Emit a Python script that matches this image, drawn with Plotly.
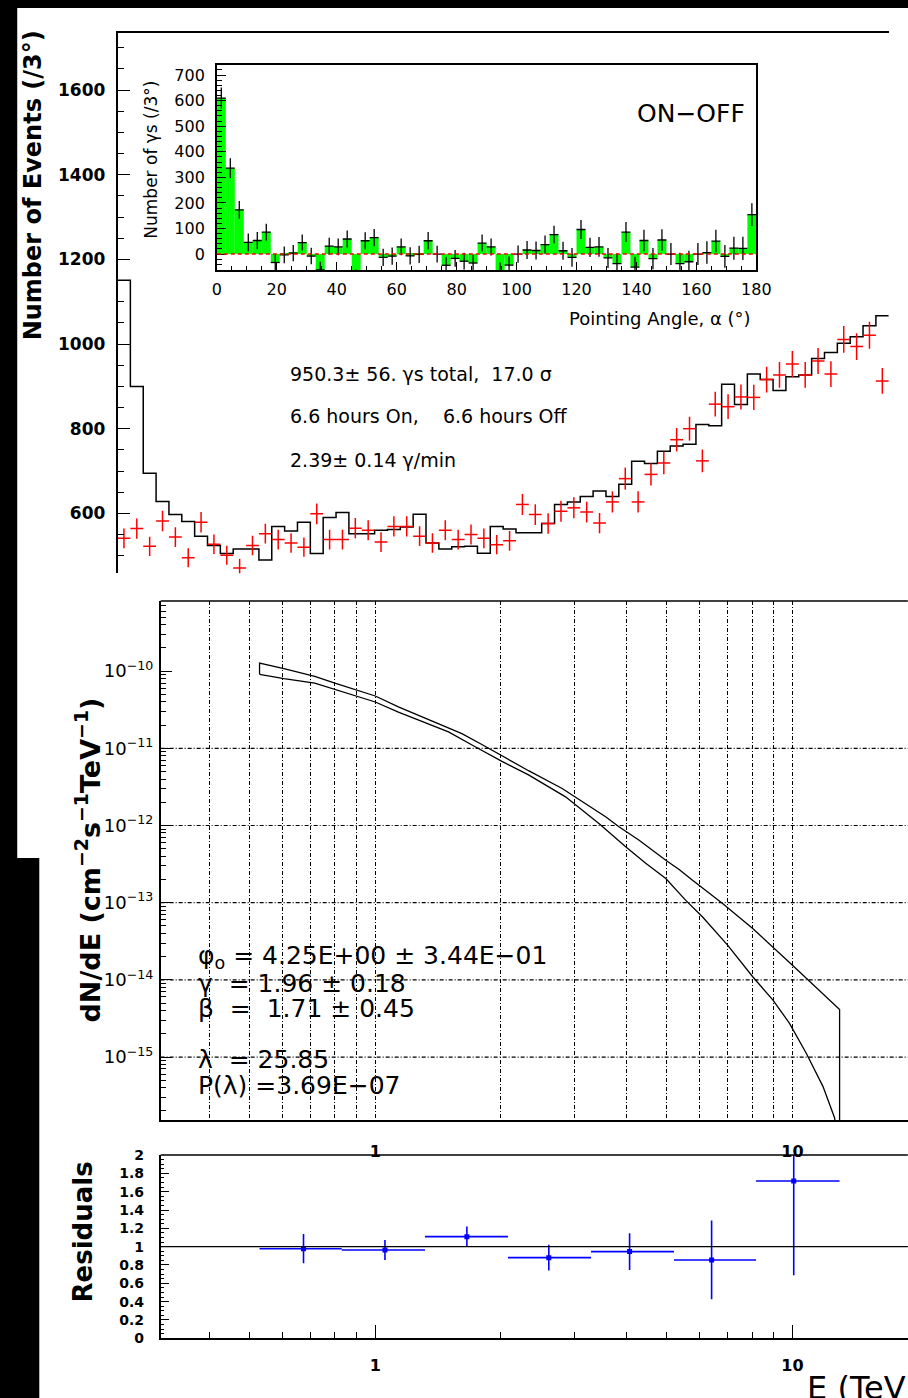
import numpy as np
import plotly.graph_objects as go

# The photographed page keeps an 8px body margin and is squeezed slightly,
# so positions are given in window pixels and converted to figure fractions.
W, H = 923, 1406
MARGIN = 8
SX, SY = 1 / 0.9755, 1414 / 1398
FONT = "DejaVu Sans"

# ---------------- data ----------------
alpha_bin_width = 3.0
alpha_edges = np.arange(0, 180 + alpha_bin_width, alpha_bin_width)
alpha_centers = alpha_edges[:-1] + alpha_bin_width / 2

on_counts = [1151, 900, 695, 628, 597, 581, 546, 524, 505, 516,
             516, 490, 569, 558, 579, 505, 590, 602, 552, 552,
             560, 562, 568, 598, 530, 516, 521, 522, 506, 569,
             563, 554, 554, 576, 621, 627, 640, 653, 640, 669,
             723, 718, 747, 759, 763, 810, 807, 905, 857, 929,
             916, 890, 923, 927, 966, 980, 1002, 1017, 1043, 1067]

off_counts = [541, 564, 522, 582, 544, 495, 579, 527, 501, 471,
              524, 552, 538, 530, 520, 599, 538, 538, 565, 560,
              532, 569, 569, 546, 530, 560, 538, 550, 541, 526,
              535, 621, 597, 576, 605, 613, 603, 577, 627, 682,
              627, 692, 719, 774, 800, 724, 858, 852, 875, 874,
              916, 927, 953, 927, 960, 929, 1011, 994, 1021, 913]

main_y_ticks = [600, 800, 1000, 1200, 1400, 1600]
inset_y_ticks = [0, 100, 200, 300, 400, 500, 600, 700]
inset_x_ticks = [0, 20, 40, 60, 80, 100, 120, 140, 160, 180]

stats_lines = ["950.3± 56. γs total,\u00a0\u00a017.0 σ",
               "6.6 hours On,\u00a0\u00a0\u00a0\u00a06.6 hours Off",
               "2.39± 0.14 γ/min"]

# spectral fit band (two envelope curves), E in TeV, log10 of flux
band_E_upper = [0.528, 0.604, 0.716, 0.807, 0.91, 1.0, 1.136, 1.292, 1.444, 1.613,
                1.801, 2.012, 2.33, 2.805, 3.565, 3.838, 4.29, 4.97, 5.35, 5.76,
                6.80, 8.03, 8.97, 10.0, 12.97]
band_logF_upper = [-9.895, -9.968, -10.067, -10.162, -10.257, -10.322, -10.464, -10.594, -10.70, -10.809,
                   -10.95, -11.10, -11.29, -11.52, -11.887, -12.017, -12.19, -12.45, -12.57, -12.71,
                   -13.01, -13.335, -13.57, -13.81, -14.383]
band_E_lower = [0.528, 0.604, 0.716, 0.807, 0.91, 1.0, 1.136, 1.292, 1.498, 1.736,
                2.012, 2.33, 2.858, 3.436, 3.983, 4.449, 4.97, 5.55, 6.09, 6.99,
                8.03, 8.97, 9.83, 10.79, 11.83, 12.62]
band_logF_lower = [-10.041, -10.097, -10.154, -10.24, -10.335, -10.40, -10.53, -10.646, -10.788, -10.98,
                   -11.17, -11.345, -11.629, -11.973, -12.276, -12.49, -12.686, -12.97, -13.185, -13.55,
                   -13.96, -14.26, -14.56, -14.95, -15.38, -15.79]

spec_grid_E = [0.4, 0.5, 0.6, 0.7, 0.8, 0.9, 1, 2, 3, 4, 5, 6, 7, 8, 9, 10]
spec_E_labels = {1: "1", 10: "10"}
spec_decades = [-10, -11, -12, -13, -14, -15]
spec_grid_decades = [-11, -12, -13, -14, -15]

fit_lines = ["φ<sub>o</sub> = 4.25E+00 ± 3.44E−01",
             "γ\u00a0\u00a0= 1.96 ± 0.18",
             "β\u00a0\u00a0=\u00a0\u00a01.71 ± 0.45",
             "λ\u00a0\u00a0= 25.85",
             "P(λ) =3.69E−07"]

res_E = [0.673, 1.055, 1.658, 2.606, 4.07, 6.40, 10.07]
res_val = [0.978, 0.964, 1.109, 0.880, 0.946, 0.855, 1.717]
res_err = [0.16, 0.11, 0.11, 0.14, 0.20, 0.43, 1.03]
res_E_lo = [0.528, 0.831, 1.316, 2.08, 3.29, 5.20, 8.18]
res_E_hi = [0.831, 1.316, 2.08, 3.29, 5.20, 8.18, 12.97]
res_y_ticks = [0, 0.2, 0.4, 0.6, 0.8, 1, 1.2, 1.4, 1.6, 1.8, 2]

# ---------------- helpers (window px -> paper fraction) ----------------
def fx(px):
    return min(1.0, max(0.0, (px * SX - MARGIN) / W))

def fy(py):
    return min(1.0, max(0.0, 1 - (py * SY - MARGIN) / H))

def fx_to_px(f):
    return (f * W + MARGIN) / SX

on = np.array(on_counts, dtype=float)
off = np.array(off_counts, dtype=float)
diff = on - off

# log-energy axis: E=1 at x=377px, one decade = 416px
E1_PX, DECADE_PX = 377.0, 416.0
X3_DOMAIN = [fx(163), fx(908)]
X3_RANGE = [(fx_to_px(X3_DOMAIN[0]) - E1_PX) / DECADE_PX,
            (fx_to_px(X3_DOMAIN[1]) - E1_PX) / DECADE_PX]
Y3_RANGE = [-15.816, -9.092]
GRID_DASH = "4px,2px,1px,2px"

fig = go.Figure()

# main ON histogram (steps)
fig.add_trace(go.Scatter(x=alpha_edges, y=list(on) + [on[-1]], mode="lines",
                         line=dict(color="black", width=1.5, shape="hv"),
                         xaxis="x", yaxis="y", hoverinfo="skip"))
# OFF crosses
fig.add_trace(go.Scatter(x=alpha_centers, y=off, mode="markers",
                         marker=dict(size=1, color="red"),
                         error_x=dict(type="constant", value=alpha_bin_width / 2, width=0,
                                      thickness=1.5, color="red"),
                         error_y=dict(type="data", array=np.sqrt(off), width=0,
                                      thickness=1.5, color="red"),
                         xaxis="x", yaxis="y", hoverinfo="skip"))

# inset ON-OFF
fig.add_trace(go.Bar(x=alpha_centers, y=diff, width=alpha_bin_width,
                     marker=dict(color="#00ff00", line=dict(width=0)),
                     xaxis="x2", yaxis="y2", hoverinfo="skip"))
fig.add_trace(go.Scatter(x=alpha_centers, y=diff, mode="markers",
                         marker=dict(size=1, color="black"),
                         error_x=dict(type="constant", value=alpha_bin_width / 2, width=0,
                                      thickness=1.3, color="black"),
                         error_y=dict(type="data", array=np.sqrt(on + off), width=0,
                                      thickness=1.3, color="black"),
                         xaxis="x2", yaxis="y2", hoverinfo="skip"))

# spectrum band
F_up = [10 ** v for v in band_logF_upper]
F_lo = [10 ** v for v in band_logF_lower]
floor = 10 ** (Y3_RANGE[0] - 0.5)
fig.add_trace(go.Scatter(x=[band_E_lower[0]] + band_E_upper + [band_E_upper[-1]],
                         y=[F_lo[0]] + F_up + [floor], mode="lines",
                         line=dict(color="black", width=1.3),
                         xaxis="x3", yaxis="y3", hoverinfo="skip"))
fig.add_trace(go.Scatter(x=band_E_lower + [band_E_lower[-1] * 1.02],
                         y=F_lo + [floor], mode="lines",
                         line=dict(color="black", width=1.3),
                         xaxis="x3", yaxis="y3", hoverinfo="skip"))

# residuals
fig.add_trace(go.Scatter(x=res_E, y=res_val, mode="markers",
                         marker=dict(symbol="square", size=5, color="#0000ff"),
                         error_x=dict(type="data",
                                      array=[h - e for h, e in zip(res_E_hi, res_E)],
                                      arrayminus=[e - l for e, l in zip(res_E, res_E_lo)],
                                      width=0, thickness=1.6, color="#0000ff"),
                         error_y=dict(type="data", array=res_err, width=0,
                                      thickness=1.6, color="#0000ff"),
                         xaxis="x4", yaxis="y4", hoverinfo="skip"))

tick_black = dict(tickcolor="black", tickwidth=1.3)

layout = dict(
    width=W, height=H, autosize=False,
    margin=dict(l=0, r=0, t=0, b=0, pad=0),
    paper_bgcolor="black", plot_bgcolor="white",
    showlegend=False,
    font=dict(family=FONT, color="black"),
    xaxis=dict(domain=[fx(120), fx(889)], range=[0, 180], anchor="y", side="top",
               showline=True, linecolor="black", linewidth=1.5, showgrid=False,
               zeroline=False, showticklabels=False, ticks=""),
    yaxis=dict(domain=[fy(573.3), fy(33)], range=[458.2, 1734.8], anchor="x",
               showline=True, linecolor="black", linewidth=1.5, showgrid=False, zeroline=False,
               ticks="inside", ticklen=13, tickvals=main_y_ticks, **tick_black,
               tickfont=dict(family=FONT, size=17, color="black", weight="bold"),
               ticklabelstandoff=7,
               minor=dict(dtick=50, ticks="inside", ticklen=7, tickcolor="black", tickwidth=1.3)),
    xaxis2=dict(domain=[fx(219), fx(757)], range=[0, 180], anchor="y2",
                showline=True, mirror=True, linecolor="black", linewidth=1.5,
                showgrid=False, zeroline=False, ticks="inside", ticklen=8,
                tickvals=inset_x_ticks, **tick_black,
                tickfont=dict(family=FONT, size=16, color="black"), ticklabelstandoff=4,
                minor=dict(dtick=5, ticks="inside", ticklen=4, tickcolor="black", tickwidth=1.2)),
    yaxis2=dict(domain=[fy(270), fy(65)], range=[-62.6, 739], anchor="x2",
                showline=True, mirror=True, linecolor="black", linewidth=1.5,
                showgrid=False, zeroline=False, ticks="inside", ticklen=9,
                tickvals=inset_y_ticks, **tick_black,
                tickfont=dict(family=FONT, size=16, color="black"), ticklabelstandoff=7,
                minor=dict(dtick=20, ticks="inside", ticklen=5, tickcolor="black", tickwidth=1.2)),
    xaxis3=dict(type="log", domain=X3_DOMAIN, range=X3_RANGE, anchor="y3",
                showline=True, linecolor="black", linewidth=1.5, zeroline=False,
                tickvals=spec_grid_E,
                ticktext=[spec_E_labels.get(v, "") for v in spec_grid_E],
                ticks="", showgrid=True, gridcolor="black", gridwidth=1.2,
                griddash=GRID_DASH,
                tickfont=dict(family=FONT, size=16, color="black", weight="bold"),
                ticklabelstandoff=16),
    yaxis3=dict(type="log", domain=[fy(1120), fy(601)], range=Y3_RANGE, anchor="x3",
                showline=True, linecolor="black", linewidth=1.5, zeroline=False, showgrid=False,
                ticks="inside", ticklen=12, **tick_black,
                tickvals=[10 ** d for d in spec_decades],
                ticktext=["10<sup>−%d</sup>" % (-d) for d in spec_decades],
                tickfont=dict(family=FONT, size=18, color="black"), ticklabelstandoff=2,
                minor=dict(tickvals=[k * 10 ** d for d in range(-16, -8) for k in range(2, 10)],
                           ticks="inside", ticklen=6, tickcolor="black", tickwidth=1.2)),
    xaxis4=dict(type="log", domain=X3_DOMAIN, range=X3_RANGE, anchor="y4",
                showline=True, linecolor="black", linewidth=1.5, zeroline=False, showgrid=False,
                ticks="inside", ticklen=14, **tick_black,
                tickvals=[1, 10], ticktext=["1", "10"],
                tickfont=dict(family=FONT, size=16, color="black", weight="bold"),
                ticklabelstandoff=12,
                minor=dict(tickvals=[v for v in spec_grid_E if v not in (1, 10)],
                           ticks="inside", ticklen=7, tickcolor="black", tickwidth=1.3)),
    yaxis4=dict(domain=[fy(1338.3), fy(1155)], range=[0, 2], anchor="x4",
                showline=True, linecolor="black", linewidth=1.5, zeroline=False, showgrid=False,
                ticks="inside", ticklen=9, **tick_black,
                tickvals=res_y_ticks, ticktext=["%g" % v for v in res_y_ticks],
                tickfont=dict(family=FONT, size=14, color="black", weight="bold"),
                ticklabelstandoff=12,
                minor=dict(dtick=0.05, ticks="inside", ticklen=4, tickcolor="black", tickwidth=1.2)),
)

shapes = [
    # white picture areas
    dict(type="rect", xref="paper", yref="paper", x0=fx(20), x1=1, y0=fy(858), y1=fy(5),
         fillcolor="white", line=dict(width=0), layer="below"),
    dict(type="rect", xref="paper", yref="paper", x0=fx(42), x1=1, y0=0, y1=fy(597),
         fillcolor="white", line=dict(width=0), layer="below"),
    # inset zero line
    dict(type="line", xref="x2 domain", x0=0, x1=1, yref="y2", y0=0, y1=0,
         line=dict(color="red", width=1.5, dash="4px,3px")),
    # spectrum top frame
    dict(type="line", xref="x3 domain", x0=0, x1=1, yref="y3 domain", y0=1, y1=1,
         line=dict(color="black", width=1.5)),
    # residual top frame and unity line
    dict(type="line", xref="x4 domain", x0=0, x1=1, yref="y4 domain", y0=1, y1=1,
         line=dict(color="black", width=1.5)),
    dict(type="line", xref="x4 domain", x0=0, x1=1, yref="y4", y0=1, y1=1,
         line=dict(color="black", width=1.3)),
]
for d in spec_grid_decades:
    shapes.append(dict(type="line", xref="x3 domain", x0=0, x1=1, yref="y3",
                       y0=10 ** d, y1=10 ** d,
                       line=dict(color="black", width=1.2, dash=GRID_DASH), layer="above"))
layout["shapes"] = shapes

ann = []
def add_text(text, px, py, size, xanchor="left", yanchor="middle", angle=0, bold=False):
    ann.append(dict(text=text, x=fx(px), y=fy(py), xref="paper", yref="paper",
                    xanchor=xanchor, yanchor=yanchor, showarrow=False, textangle=angle,
                    font=dict(family=FONT, size=size, color="black",
                              weight="bold" if bold else "normal")))

add_text("Number of Events (/3°)", 36, 185, 24, xanchor="center", angle=-90, bold=True)
add_text("Number of γs (/3°)", 153, 160, 17, xanchor="center", angle=-90)
add_text("Pointing Angle, α (°)", 754, 318, 18, xanchor="right")
add_text("ON−OFF", 748, 113, 25, xanchor="right")
for line, py in zip(stats_lines, [374, 416, 460]):
    add_text(line, 290, py, 19)
add_text("dN/dE (cm<sup>−2</sup>s<sup>−1</sup>TeV<sup>−1</sup>)", 90, 860, 27,
         xanchor="center", angle=-90, bold=True)
for line, py in zip(fit_lines, [957, 983, 1008, 1059, 1085]):
    add_text(line, 198, py, 25)
add_text("Residuals", 86, 1232, 26, xanchor="center", angle=-90, bold=True)
add_text("E (TeV)", 805, 1367, 32, yanchor="top")
layout["annotations"] = ann

fig.update_layout(**layout)
fig.write_html("out.html", include_plotlyjs=True,
               config={"displayModeBar": False, "responsive": False})
